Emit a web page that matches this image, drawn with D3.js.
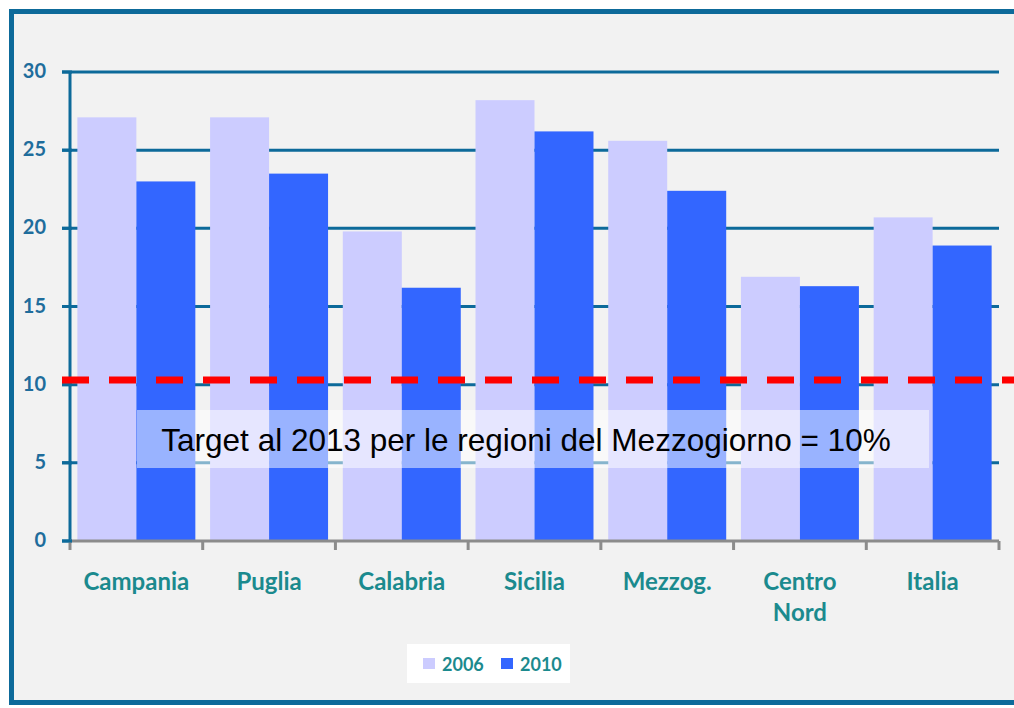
<!DOCTYPE html>
<html>
<head>
<meta charset="utf-8">
<script src="https://cdn.jsdelivr.net/npm/d3@7"></script>
<style>
  html, body { margin: 0; padding: 0; background: #fff; }
  svg { display: block; }
</style>
</head>
<body>
<div id="chart"></div>
<script>
// data (percent)
const categories = ["Campania", "Puglia", "Calabria", "Sicilia", "Mezzog.", "Centro Nord", "Italia"];
const seriesNames = ["2006", "2010"];
const values2006 = [27.1, 27.1, 19.8, 28.2, 25.6, 16.9, 20.7];
const values2010 = [23.0, 23.5, 16.2, 26.2, 22.4, 16.3, 18.9];
const yTicks = [0, 5, 10, 15, 20, 25, 30];
const targetLevel = 10.3; // where the dashed line is drawn
const targetText = "Target al 2013 per le regioni del Mezzogiorno = 10%";

const W = 1014, H = 708;
const colors = { "2006": "#ccccff", "2010": "#3366ff" };
const frameColor = "#0d6a9a";
const labelColor = "#1b8a8e";

const svg = d3.select("#chart").append("svg").attr("width", W).attr("height", H);

// panel + frame (top, left, bottom only)
svg.append("rect").attr("x", 9).attr("y", 9).attr("width", W).attr("height", 696).attr("fill", "#f2f2f2");
svg.append("path")
  .attr("d", `M${W},11.5 H11.5 V702.5 H${W}`)
  .attr("fill", "none").attr("stroke", frameColor).attr("stroke-width", 5);

const x = d3.scaleBand().domain(categories).range([70, 999]);
const x1 = d3.scaleBand().domain(seriesNames).range([0, x.bandwidth()]).paddingOuter(0.125);
const y = d3.scaleLinear().domain([0, 30]).range([541, 72]);

// gridlines
svg.append("g").selectAll("line").data(yTicks.filter(d => d > 0)).join("line")
  .attr("x1", 62).attr("x2", 999)
  .attr("y1", d => y(d)).attr("y2", d => y(d))
  .attr("stroke", frameColor).attr("stroke-width", 3);

// bars
const rows = categories.map((c, i) => ({ cat: c, vals: [values2006[i], values2010[i]] }));
svg.append("g").selectAll("g").data(rows).join("g")
  .attr("transform", d => `translate(${x(d.cat)},0)`)
  .selectAll("rect")
  .data(d => d.vals.map((v, j) => ({ key: seriesNames[j], v })))
  .join("rect")
  .attr("x", d => x1(d.key))
  .attr("width", x1.bandwidth())
  .attr("y", d => y(d.v))
  .attr("height", d => y(0) - y(d.v))
  .attr("fill", d => colors[d.key]);

// y axis line and ticks
svg.append("line").attr("x1", 70).attr("x2", 70).attr("y1", y(30)).attr("y2", y(0))
  .attr("stroke", frameColor).attr("stroke-width", 3);
svg.append("g").selectAll("line").data(yTicks).join("line")
  .attr("x1", 62).attr("x2", 72).attr("y1", d => y(d)).attr("y2", d => y(d))
  .attr("stroke", frameColor).attr("stroke-width", 3);
svg.append("g").selectAll("text").data(yTicks).join("text")
  .attr("x", 46).attr("y", d => y(d) - 1).attr("dy", "0.35em")
  .attr("text-anchor", "end")
  .style("font", "bold 20px Lato, 'Open Sans', sans-serif")
  .attr("fill", "#1f6d9c")
  .text(d => d);

// x axis (gray) with ticks at band edges
const edges = categories.map(c => x(c)).concat([x.range()[1]]);
svg.append("line").attr("x1", 70).attr("x2", 999).attr("y1", y(0)).attr("y2", y(0))
  .attr("stroke", "#8c8c8c").attr("stroke-width", 3);
svg.append("g").selectAll("line").data(edges).join("line")
  .attr("x1", d => d).attr("x2", d => d).attr("y1", y(0)).attr("y2", y(0) + 9)
  .attr("stroke", "#8c8c8c").attr("stroke-width", 3);
// keep the y axis on top at the corner
svg.append("line").attr("x1", 62).attr("x2", 72).attr("y1", y(0)).attr("y2", y(0))
  .attr("stroke", frameColor).attr("stroke-width", 3);

// category labels
svg.append("g").selectAll("text").data(categories).join("text")
  .attr("x", d => x(d) + x.bandwidth() / 2)
  .attr("y", 590)
  .attr("text-anchor", "middle")
  .style("font", "bold 24px Lato, 'Open Sans', sans-serif")
  .attr("fill", labelColor)
  .each(function (d) {
    const parts = d.split(" ");
    d3.select(this).selectAll("tspan").data(parts).join("tspan")
      .attr("x", x(d) + x.bandwidth() / 2)
      .attr("dy", (p, i) => i === 0 ? 0 : 31)
      .text(p => p);
  });

// target dashed line
svg.append("line").attr("x1", 62).attr("x2", W).attr("y1", y(targetLevel)).attr("y2", y(targetLevel))
  .attr("stroke", "#ff0000").attr("stroke-width", 7).attr("stroke-dasharray", "27,20");

// target note
svg.append("rect").attr("x", 137).attr("y", 410).attr("width", 792).attr("height", 58)
  .attr("fill", "#fff").attr("fill-opacity", 0.5);
svg.append("text").attr("x", 526).attr("y", 451).attr("text-anchor", "middle")
  .style("font", "31.5px 'Liberation Sans', Arial, sans-serif")
  .attr("fill", "#000")
  .text(targetText);

// legend
const lg = svg.append("g");
lg.append("rect").attr("x", 407).attr("y", 644).attr("width", 163).attr("height", 39).attr("fill", "#fff");
const legX = [423, 501];
lg.selectAll("rect.sw").data(seriesNames).join("rect").attr("class", "sw")
  .attr("x", (d, i) => legX[i]).attr("y", 658).attr("width", 12).attr("height", 11)
  .attr("fill", d => colors[d]);
lg.selectAll("text").data(seriesNames).join("text")
  .attr("x", (d, i) => legX[i] + 19).attr("y", 671)
  .style("font", "bold 18px Lato, 'Open Sans', sans-serif")
  .attr("fill", labelColor)
  .text(d => d);
</script>
</body>
</html>
